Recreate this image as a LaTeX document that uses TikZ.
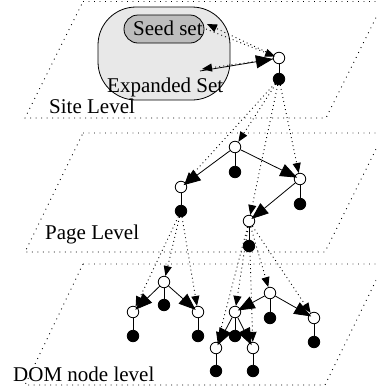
\documentclass[tikz,border=0pt]{standalone}
\usepackage{fontspec}
\setmainfont{Liberation Serif}
\usetikzlibrary{arrows.meta}
\definecolor{expfill}{gray}{0.91}
\definecolor{seedfill}{gray}{0.74}
\tikzset{
  plane/.style={line width=0.9pt, dash pattern=on 0.9pt off 4.6pt},
  opennode/.style={circle, draw, fill=white, line width=0.8pt, inner sep=0pt, minimum size=11.5pt},
  fullnode/.style={circle, draw, fill=black, line width=0.8pt, inner sep=0pt, minimum size=11.5pt},
  stem/.style={line width=0.8pt},
  edgearrow/.style={line width=0.8pt, -{Triangle[length=17pt,width=13pt]}, shorten >=-3pt},
  linkarrow/.style={line width=0.9pt, dash pattern=on 0.9pt off 3.2pt, -{Triangle[length=10pt,width=8pt]}},
  leveltext/.style={anchor=base west, inner sep=0pt, font=\fontsize{21}{25}\selectfont},
}
\begin{document}
\begin{tikzpicture}[x=1pt, y=-1pt]
\clip (0,0) rectangle (376,389);

% the three levels
\draw[plane] (83,1.5) -- (384,1.5) -- (326,118) -- (25,118) -- cycle;
\draw[plane] (83,133) -- (384,133) -- (325,252) -- (25,252) -- cycle;
\draw[plane] (83,264) -- (384,264) -- (325,385) -- (25,385) -- cycle;

% expanded set and seed set
\draw[line width=0.8pt, fill=expfill, rounded corners=38pt] (98,7) rectangle (230,100);
\draw[line width=0.8pt, fill=seedfill, rounded corners=14pt] (124,15) rectangle (204,43);
\node[leveltext] (seedtxt) at (133,35) {Seed set};
\node[leveltext] (exptxt) at (107,92) {Expanded Set};
\coordinate (seedA) at (207,24);
\coordinate (seedB) at (206,29);
\coordinate (expA) at (200,71);
\coordinate (expB) at (202,69);

% level labels
\node[leveltext] (sitelbl) at (49,113) {Site Level};
\node[leveltext] (pagelbl) at (45,239) {Page Level};
\node[leveltext] (domlbl) at (13,381) {DOM node level};

% site level
\node[opennode] (so) at (279,58) {};
\node[fullnode] (sf) at (279,79) {};

% page level
\node[opennode] (pr) at (235,147) {};
\node[fullnode] (prf) at (235,172) {};
\node[opennode] (pl) at (181,187) {};
\node[fullnode] (plf) at (181,211) {};
\node[opennode] (pR) at (300,179) {};
\node[fullnode] (pRf) at (300,204) {};
\node[opennode] (pm) at (249,221) {};
\node[fullnode] (pmf) at (249,246) {};

% DOM level, left tree
\node[opennode] (dr) at (164,282) {};
\node[fullnode] (drf) at (164,305) {};
\node[opennode] (dl) at (133,312) {};
\node[fullnode] (dlf) at (133,336) {};
\node[opennode] (dR) at (198,312) {};
\node[fullnode] (dRf) at (198,336) {};

% DOM level, right tree
\node[opennode] (er) at (270,293) {};
\node[fullnode] (erf) at (270,318) {};
\node[opennode] (el) at (235,312) {};
\node[fullnode] (elf) at (235,336) {};
\node[opennode] (eR) at (314,318) {};
\node[fullnode] (eRf) at (314,342) {};
\node[opennode] (ell) at (216,348) {};
\node[fullnode] (ellf) at (216,371) {};
\node[opennode] (elr) at (253,348) {};
\node[fullnode] (elrf) at (253,371) {};

% stems from open to filled nodes
\foreach \a/\b in {so/sf, pr/prf, pl/plf, pR/pRf, pm/pmf, dr/drf, dl/dlf, dR/dRf,
                   er/erf, el/elf, eR/eRf, ell/ellf, elr/elrf}
  \draw[stem] (\a) -- (\b);

% links between the sets and the site node
\draw[linkarrow] (so) -- (seedA);
\draw[linkarrow, shorten >=-2pt] (seedB) -- (so);
\draw[edgearrow, shorten >=0pt] (expA) -- (so);
\draw[linkarrow] (so) -- (expB);

% tree edges
\foreach \a/\b in {pr/pl, pr/pR, pR/pm, dr/dl, dr/dR, er/el, er/eR, el/ell, el/elr}
  \draw[edgearrow] (\a) -- (\b);

% links between levels
\foreach \t in {pr, pl, pR, pm}
  \draw[linkarrow] (sf) -- (\t);
\foreach \t in {dr, dl, dR}
  \draw[linkarrow] (plf) -- (\t);
\foreach \t in {ell, el, elr, er, eR}
  \draw[linkarrow] (pm) -- (\t);
\end{tikzpicture}
\end{document}
